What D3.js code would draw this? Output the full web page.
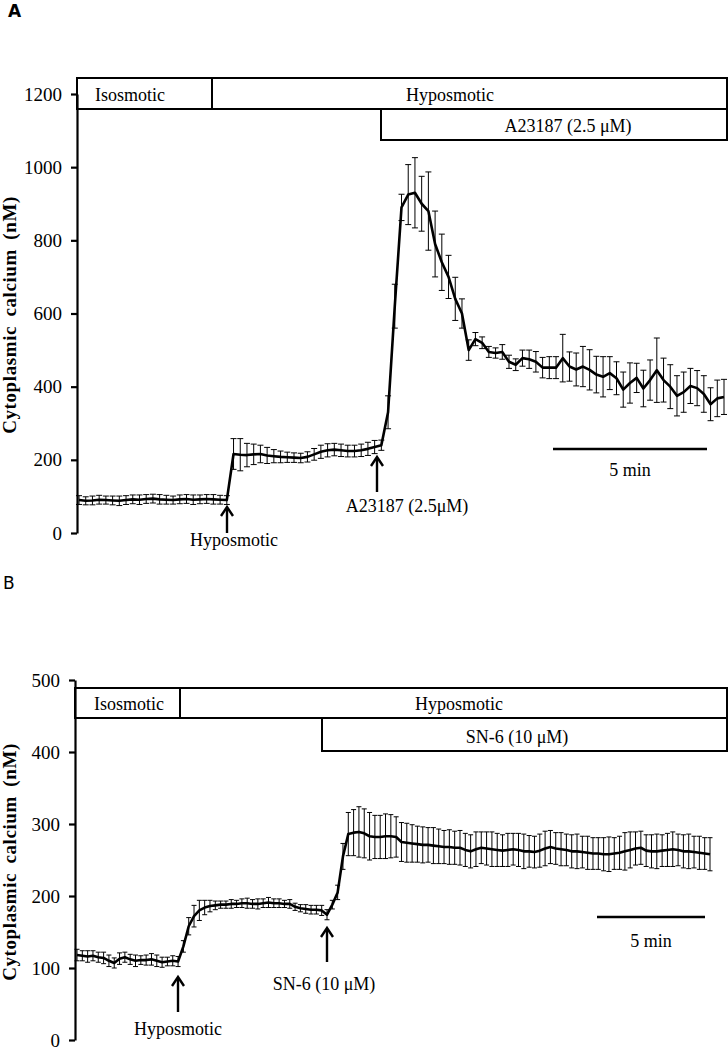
<!DOCTYPE html>
<html>
<head>
<meta charset="utf-8">
<script src="https://cdn.jsdelivr.net/npm/d3@7"></script>
<style>
  body { margin: 0; background: #fff; }
  svg text { font-family: "Liberation Serif", "Times New Roman", serif; fill: #000; }
  .panel-letter { font-family: "DejaVu Sans", "Liberation Sans", sans-serif; }
</style>
</head>
<body>
<svg id="chart" width="728" height="1050"></svg>
<script>
// Panel A: cytoplasmic calcium (nM), mean and SEM per sample
const meanA = [
  90, 88, 89, 91, 90, 89, 88, 90, 92, 91, 93, 94, 92, 91, 90, 92, 93, 91, 92, 93, 92, 91, 90,
  216, 214, 213, 215, 216, 212, 210, 208, 207, 206, 205, 208, 215, 222, 226, 228, 226, 224, 224, 226, 230, 235, 240,
  330, 620,
  890, 925, 930, 900, 880, 790, 740, 700, 640, 600, 500, 530, 520, 495, 492, 495, 468, 460, 478, 475,
  468, 452, 452, 452, 478, 455, 447, 455, 446, 433, 427, 437, 423, 392, 410, 424, 395, 418, 445, 418,
  400, 375, 385, 402, 396, 380, 352, 368, 372
];
const semA = [
  12, 11, 12, 12, 11, 12, 13, 12, 12, 13, 12, 12, 13, 12, 11, 12, 12, 13, 12, 12, 13, 12, 12,
  42, 44, 32, 28, 24, 22, 18, 16, 14, 13, 13, 14, 16, 18, 18, 17, 17, 16, 16, 17, 18, 18, 14,
  45, 60,
  36, 82, 96, 75, 107, 90, 77, 59, 59, 40, 28, 18, 16, 15, 14, 20, 18, 16, 22, 25,
  28, 28, 30, 30, 65, 40, 45, 55, 55, 50, 55, 45, 45, 48, 55, 40, 50, 55, 88, 60,
  60, 55, 55, 48, 48, 50, 45, 50, 48
];

// Panel B
const meanB = [
  118, 117, 116, 117, 115, 114, 110, 107, 113, 115, 112, 110, 111, 111, 112, 110, 108, 109, 110, 109,
  130, 158, 172, 180, 184, 186,
  187, 188, 188, 189, 189, 190, 190, 189, 189, 190, 191, 190, 190, 189, 189,
  185, 183, 182, 181, 181, 180,
  174, 188, 205, 255, 286,
  288, 289, 287, 283, 282, 282, 283, 283, 282, 275, 274, 273, 272, 271, 271, 270, 269, 268, 268, 267,
  267, 264, 262, 265, 267, 266, 265, 264, 263, 264, 265, 264, 262, 262, 261, 263, 266, 268, 266, 265,
  264, 262, 262, 261, 260, 259, 259, 258, 258, 259, 260, 262, 264, 266, 267, 263, 262, 262, 263, 264,
  265, 264, 262, 262, 261, 260, 259, 258
];
const semB = [
  8, 7, 8, 7, 7, 8, 8, 7, 8, 7, 7, 8, 6, 7, 8, 8, 7, 6, 7, 7,
  8, 12, 15, 14, 10, 8,
  6, 5, 5, 6, 5, 6, 7, 6, 7, 6, 7, 6, 6, 5, 6,
  5, 5, 6, 6, 6, 7,
  7, 6, 10, 18, 30,
  32, 35, 34, 33, 30, 30, 31, 30, 28, 27, 27, 26, 25, 25, 24, 25, 24, 23, 24, 23,
  24, 23, 23, 24, 22, 23, 24, 23, 22, 23, 22, 23, 24, 22, 22, 23, 24, 23, 22, 23,
  22, 23, 24, 22, 23, 22, 22, 23, 24, 22, 23, 26, 25, 23, 23, 22, 23, 24, 22, 23,
  24, 22, 23, 24, 22, 23, 22, 23
];

const ticksA = [0, 200, 400, 600, 800, 1000, 1200];
const ticksB = [0, 100, 200, 300, 400, 500];

const svg = d3.select("#chart");

const panels = [
  {
    letter: "A", letterX: 8, letterY: 17, letterWeight: "bold",
    mean: meanA, sem: semA, ticks: ticksA, yMax: 1200,
    axisX: 77, yTop: 94, yBottom: 533, xStart: 79, xEnd: 724, cap: 3,
    labelY: 315,
    boxes: [
      { x0: 77, x1: 212, y0: 78, y1: 109, text: "Isosmotic", tx: 95, anchor: "start" },
      { x0: 212, x1: 727, y0: 78, y1: 109, text: "Hyposmotic", tx: 450, anchor: "middle" },
      { x0: 381, x1: 727, y0: 109, y1: 140, text: "A23187 (2.5 \u03bcM)", tx: 568, anchor: "middle" }
    ],
    arrows: [
      { x: 227, tip: 507, tail: 533, text: "Hyposmotic", tx: 234, ty: 546 },
      { x: 377, tip: 457, tail: 492, text: "A23187 (2.5\u03bcM)", tx: 407, ty: 512 }
    ],
    bar: { x0: 553, x1: 707, y: 449, ty: 476 }
  },
  {
    letter: "B", letterX: 3, letterY: 589, letterWeight: "normal",
    mean: meanB, sem: semB, ticks: ticksB, yMax: 500,
    axisX: 75, yTop: 680, yBottom: 1040, xStart: 77, xEnd: 710, cap: 2.5,
    labelY: 862,
    boxes: [
      { x0: 75, x1: 180, y0: 688, y1: 718, text: "Isosmotic", tx: 129, anchor: "middle" },
      { x0: 180, x1: 727, y0: 688, y1: 718, text: "Hyposmotic", tx: 459, anchor: "middle" },
      { x0: 322, x1: 727, y0: 718, y1: 751, text: "SN-6 (10 \u03bcM)", tx: 517, anchor: "middle" }
    ],
    arrows: [
      { x: 178, tip: 977, tail: 1012, text: "Hyposmotic", tx: 178, ty: 1035 },
      { x: 327, tip: 928, tail: 962, text: "SN-6 (10 \u03bcM)", tx: 324, ty: 990 }
    ],
    bar: { x0: 597, x1: 705, y: 917, ty: 947 }
  }
];

panels.forEach(drawPanel);

function drawPanel(p) {
  const g = svg.append("g");
  const x = d3.scaleLinear().domain([0, p.mean.length - 1]).range([p.xStart, p.xEnd]);
  const y = d3.scaleLinear().domain([0, p.yMax]).range([p.yBottom, p.yTop]);

  // panel letter
  g.append("text")
    .attr("class", "panel-letter")
    .attr("x", p.letterX).attr("y", p.letterY)
    .style("font-size", "17px").style("font-weight", p.letterWeight)
    .text(p.letter);

  // y axis
  const axis = g.append("g")
    .attr("transform", `translate(${p.axisX},0)`)
    .call(d3.axisLeft(y).tickValues(p.ticks).tickFormat(d3.format("d"))
      .tickSize(6).tickSizeOuter(0).tickPadding(9));
  axis.select(".domain").attr("stroke", "#000").attr("stroke-width", 2.2);
  axis.selectAll(".tick line").attr("stroke", "#000").attr("stroke-width", 2.2);
  axis.selectAll(".tick text")
    .attr("font-family", null)
    .style("font-size", "19px");

  g.append("text")
    .attr("transform", `translate(16,${p.labelY}) rotate(-90)`)
    .attr("text-anchor", "middle")
    .style("font-size", "19px").style("font-weight", "bold")
    .style("letter-spacing", "0.6px").style("word-spacing", "4px")
    .text("Cytoplasmic calcium (nM)");

  // treatment boxes
  p.boxes.forEach(b => {
    g.append("rect")
      .attr("x", b.x0).attr("y", b.y0)
      .attr("width", b.x1 - b.x0).attr("height", b.y1 - b.y0)
      .attr("fill", "none").attr("stroke", "#000").attr("stroke-width", 2);
    g.append("text")
      .attr("x", b.tx).attr("y", b.y1 - 8)
      .attr("text-anchor", b.anchor)
      .style("font-size", "18px")
      .text(b.text);
  });

  // error bars
  const eb = g.append("g").attr("stroke", "#000").attr("stroke-width", 1);
  p.mean.forEach((m, i) => {
    const cx = x(i);
    const hi = y(m + p.sem[i]);
    const lo = y(m - p.sem[i]);
    eb.append("line").attr("x1", cx).attr("x2", cx).attr("y1", hi).attr("y2", lo);
    eb.append("line").attr("x1", cx - p.cap).attr("x2", cx + p.cap).attr("y1", hi).attr("y2", hi);
    eb.append("line").attr("x1", cx - p.cap).attr("x2", cx + p.cap).attr("y1", lo).attr("y2", lo);
  });

  // mean trace
  const line = d3.line().x((d, i) => x(i)).y(d => y(d));
  g.append("path")
    .datum(p.mean)
    .attr("d", line)
    .attr("fill", "none")
    .attr("stroke", "#000")
    .attr("stroke-width", 2.6)
    .attr("stroke-linejoin", "round");

  // application arrows
  p.arrows.forEach(a => {
    g.append("line")
      .attr("x1", a.x).attr("x2", a.x).attr("y1", a.tip + 1).attr("y2", a.tail)
      .attr("stroke", "#000").attr("stroke-width", 2.4);
    g.append("path")
      .attr("d", `M${a.x - 6},${a.tip + 9}L${a.x},${a.tip}L${a.x + 6},${a.tip + 9}`)
      .attr("fill", "none").attr("stroke", "#000").attr("stroke-width", 2.4);
    g.append("text")
      .attr("x", a.tx).attr("y", a.ty)
      .attr("text-anchor", "middle")
      .style("font-size", "18px")
      .text(a.text);
  });

  // time scale bar
  g.append("line")
    .attr("x1", p.bar.x0).attr("x2", p.bar.x1).attr("y1", p.bar.y).attr("y2", p.bar.y)
    .attr("stroke", "#000").attr("stroke-width", 2.4);
  g.append("text")
    .attr("x", (p.bar.x0 + p.bar.x1) / 2).attr("y", p.bar.ty)
    .attr("text-anchor", "middle")
    .style("font-size", "18px")
    .text("5 min");
}
</script>
</body>
</html>
